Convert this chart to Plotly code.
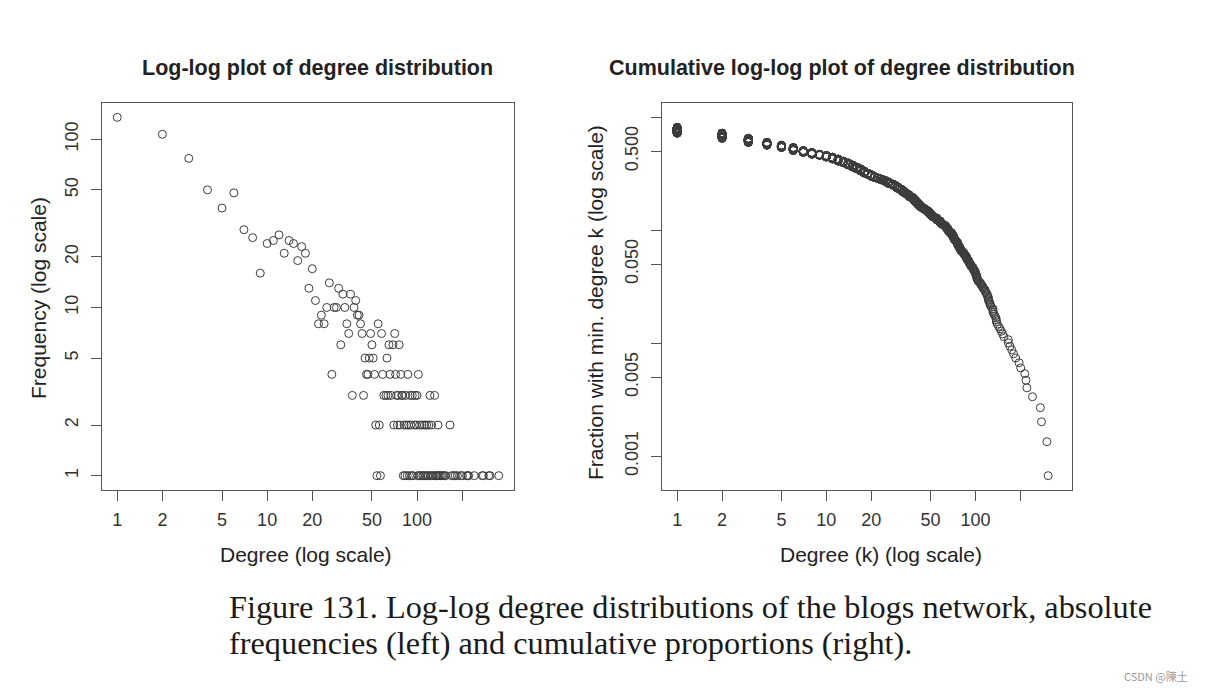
import numpy as np
import plotly.graph_objects as go

# ---- data (degree -> number of nodes) ----
degree = [1, 2, 3, 4, 5, 6, 7, 8, 9, 10, 11, 12, 13, 14, 15, 16, 17, 18, 19, 20, 21,
          22, 23, 24, 25, 26, 27, 28, 29, 30, 31, 32, 33, 34, 35, 36, 37, 38, 39, 40,
          41, 42, 43, 44, 45, 46, 47, 48, 49, 50, 51, 52, 53, 54, 55, 56, 57, 58, 59, 60,
          62, 63, 64, 65, 66, 67, 69, 70, 71, 72, 73, 74, 75, 76, 77, 78, 79,
          80, 81, 82, 83, 84, 85, 86, 87, 88, 89, 90, 91, 92,
          93, 94, 96, 97, 99, 100, 101, 102, 103, 104, 106, 108, 109, 111, 112,
          114, 116, 117, 119, 120, 122, 123, 125, 126, 128, 131,
          133, 135, 137, 138, 140, 143, 146, 149, 152, 155, 166,
          170, 175, 180, 186, 196, 201, 214, 218, 221, 241, 272, 277, 301, 307, 351]
frequency = [135, 107, 77, 50, 39, 48, 29, 26, 16, 24, 25, 27, 21, 25, 24, 19, 23, 21, 13, 17, 11,
             8, 9, 8, 10, 14, 4, 10, 10, 13, 6, 12, 10, 8, 7, 12, 3, 10, 11, 9,
             9, 8, 7, 3, 5, 4, 4, 5, 7, 6, 5, 4, 2, 1, 8, 2, 1, 7, 4, 3,
             3, 5, 3, 6, 4, 3, 6, 2, 7, 4, 3, 2, 3, 6, 2, 4, 3,
             3, 1, 2, 1, 3, 2, 1, 4, 2, 1, 3, 2, 1,
             3, 1, 2, 3, 2, 3, 1, 4, 1, 2, 1, 2, 1, 1, 2,
             1, 2, 1, 1, 2, 3, 1, 2, 1, 1, 3,
             1, 1, 1, 2, 1, 1, 1, 1, 1, 1, 2,
             1, 1, 1, 1, 1, 1, 1, 1, 1, 1, 1, 1, 1, 1, 1]
n_nodes = 1490  # total nodes in the blogs network (incl. isolated ones)

x_ticks = [1, 2, 5, 10, 20, 50, 100, 200]
x_ticktext = ["1", "2", "5", "10", "20", "50", "100", ""]
y_left_ticks = [1, 2, 5, 10, 20, 50, 100]
y_left_ticktext = ["1", "2", "5", "10", "20", "50", "100"]
y_right_ticks = [0.001, 0.005, 0.01, 0.05, 0.1, 0.5, 1]
y_right_ticktext = ["0.001", "0.005", "", "0.050", "", "0.500", ""]

# ---- right panel: nodes ranked by degree, fraction of nodes ranked above ----
node_deg = np.sort(np.repeat(degree, frequency))[::-1]
frac = np.arange(len(node_deg)) / n_nodes
keep = frac > 0
cum_deg = node_deg[keep]
cum_frac = frac[keep]

W, H = 1206, 692
def px(x):
    return x / W
def py(y):
    return 1 - y / H

marker = dict(symbol="circle-open", size=8, color="#3c3c3c", line=dict(width=1, color="#3c3c3c"))

fig = go.Figure()
fig.add_trace(go.Scatter(x=degree, y=frequency, mode="markers", marker=marker,
                         xaxis="x", yaxis="y", showlegend=False, hoverinfo="x+y"))
fig.add_trace(go.Scatter(x=cum_deg, y=cum_frac, mode="markers", marker=marker,
                         xaxis="x2", yaxis="y2", showlegend=False, hoverinfo="x+y"))

tickfont = dict(family="Liberation Sans, Arial, sans-serif", size=18, color="#333")
base = dict(type="log", showline=True, linecolor="#555", linewidth=1, mirror=True,
            ticks="outside", ticklen=10, tickcolor="#555", tickwidth=1,
            showgrid=False, zeroline=False, tickfont=tickfont)

xr = [-0.1018, 2.647]
fig.update_layout(
    width=W, height=H,
    paper_bgcolor="white", plot_bgcolor="white",
    margin=dict(l=0, r=0, t=0, b=0),
    xaxis=dict(base, domain=[px(102), px(514)], range=xr, tickvals=x_ticks,
               ticktext=x_ticktext, anchor="y", ticklabelstandoff=3),
    yaxis=dict(base, domain=[py(490), py(103)], range=[-0.0852, 2.2156],
               tickvals=y_left_ticks, ticktext=y_left_ticktext, tickangle=-90,
               anchor="x", ticklabelstandoff=6),
    xaxis2=dict(base, domain=[px(662), px(1072)], range=xr, tickvals=x_ticks,
                ticktext=x_ticktext, anchor="y2", ticklabelstandoff=3),
    yaxis2=dict(base, domain=[py(490), py(103)], range=[-3.300, 0.1266],
                tickvals=y_right_ticks, ticktext=y_right_ticktext, tickangle=-90,
                anchor="x2", ticklabelstandoff=6),
)

sans = "Liberation Sans, Arial, sans-serif"
ann = []
def add(text, x, y, size, angle=0, bold=False, family=sans, color="#222", xanchor="center"):
    ann.append(dict(text=("<b>%s</b>" % text) if bold else text, x=px(x), y=py(y),
                    xref="paper", yref="paper", showarrow=False, textangle=angle,
                    xanchor=xanchor, yanchor="middle",
                    font=dict(family=family, size=size, color=color)))

add("Log-log plot of degree distribution", 317, 68, 21.5, bold=True)
add("Cumulative log-log plot of degree distribution", 842, 68, 21.5, bold=True)
add("Degree (log scale)", 306, 554, 21)
add("Degree (k) (log scale)", 881, 554, 21)
add("Frequency (log scale)", 38, 298, 21, angle=-90)
add("Fraction with min. degree k (log scale)", 595, 303, 21, angle=-90)
add("Figure 131. Log-log degree distributions of the blogs network, absolute",
    227, 607, 32.3, family="Liberation Serif, Times New Roman, serif", color="#1a1a1a", xanchor="left")
add("frequencies (left) and cumulative proportions (right).",
    227, 643, 32.3, family="Liberation Serif, Times New Roman, serif", color="#1a1a1a", xanchor="left")
add("CSDN @陳土", 1156, 676, 11, family="Noto Sans CJK SC, sans-serif", color="#9a9a9a")
fig.update_layout(annotations=ann)

fig.write_html("out.html")
